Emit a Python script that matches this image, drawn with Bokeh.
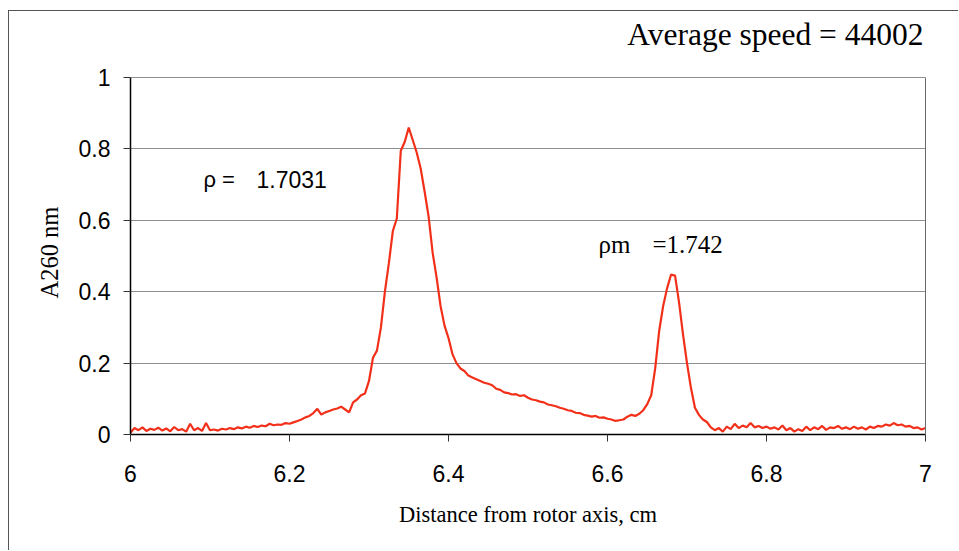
import numpy as np
from bokeh.plotting import figure
from bokeh.models import FixedTicker, Label, LinearAxis, Title
from bokeh.embed import file_html
from bokeh.resources import INLINE

# ---- data -------------------------------------------------------------
x_start = 6.0
x_step = 0.005
absorbance = [
    0.005, 0.018, 0.012, 0.020, 0.010, 0.016, 0.013, 0.019, 0.011, 0.017,   # 6.000
    0.009, 0.021, 0.012, 0.015, 0.008, 0.030, 0.012, 0.018, 0.010, 0.032,   # 6.050
    0.012, 0.014, 0.011, 0.016, 0.014, 0.018, 0.015, 0.020, 0.017, 0.022,   # 6.100
    0.019, 0.024, 0.021, 0.025, 0.023, 0.030, 0.026, 0.028, 0.027, 0.032,   # 6.150
    0.030, 0.034, 0.038, 0.042, 0.048, 0.052, 0.060, 0.072, 0.056, 0.062,   # 6.200
    0.066, 0.070, 0.073, 0.078, 0.070, 0.062, 0.090, 0.098, 0.110, 0.115,   # 6.250
    0.150, 0.215, 0.235, 0.300, 0.400, 0.480, 0.570, 0.605, 0.795, 0.820,   # 6.300
    0.860, 0.825, 0.790, 0.745, 0.680, 0.610, 0.510, 0.440, 0.360, 0.305,   # 6.350
    0.270, 0.225, 0.200, 0.185, 0.178, 0.165, 0.160, 0.155, 0.150, 0.145,   # 6.400
    0.142, 0.138, 0.128, 0.125, 0.118, 0.116, 0.112, 0.113, 0.108, 0.110,   # 6.450
    0.103, 0.098, 0.096, 0.092, 0.090, 0.084, 0.082, 0.079, 0.075, 0.072,   # 6.500
    0.068, 0.066, 0.061, 0.060, 0.055, 0.053, 0.050, 0.052, 0.047, 0.048,   # 6.550
    0.044, 0.042, 0.038, 0.040, 0.042, 0.050, 0.055, 0.052, 0.058, 0.068,   # 6.600
    0.085, 0.110, 0.185, 0.290, 0.360, 0.410, 0.448, 0.445, 0.370, 0.280,   # 6.650
    0.200, 0.130, 0.075, 0.055, 0.042, 0.035, 0.020, 0.012, 0.018, 0.008,   # 6.700
    0.022, 0.015, 0.030, 0.018, 0.025, 0.020, 0.032, 0.020, 0.024, 0.018,   # 6.750
    0.022, 0.016, 0.020, 0.014, 0.025, 0.012, 0.018, 0.008, 0.015, 0.010,   # 6.800
    0.022, 0.012, 0.020, 0.015, 0.024, 0.013, 0.020, 0.018, 0.024, 0.016,   # 6.850
    0.020, 0.015, 0.022, 0.016, 0.020, 0.014, 0.022, 0.018, 0.024, 0.022,   # 6.900
    0.028, 0.025, 0.032, 0.026, 0.028, 0.022, 0.024, 0.018, 0.020, 0.014,   # 6.950
    0.018,                                                                  # 7.000
]
distance = np.round(x_start + x_step * np.arange(len(absorbance)), 4)

x_ticks = [6, 6.2, 6.4, 6.6, 6.8, 7]
x_tick_labels = ["6", "6.2", "6.4", "6.6", "6.8", "7"]
y_ticks = [0, 0.2, 0.4, 0.6, 0.8, 1]
y_tick_labels = ["0", "0.2", "0.4", "0.6", "0.8", "1"]

title_text = "Average speed = 44002"
x_title = "Distance from rotor axis, cm"
y_title = "A260 nm"
rho_label = "\u03c1 ="
rho_value = "1.7031"
rhom_label = "\u03c1m"
rhom_value = "=1.742"

# ---- figure -----------------------------------------------------------
SANS = "Liberation Sans"
SERIF = "Liberation Serif"

# plot box: 357 px per unit of A260; the frame extends 66 px above y=1
# so that the title can live inside it
Y_AXIS_MIN, Y_AXIS_MAX = 0, 1
Y_VIEW_TOP = 1 + 66 / 357

p = figure(width=950, height=540, x_range=(6, 7), y_range=(0, Y_VIEW_TOP),
           output_backend="svg", toolbar_location=None,
           min_border_left=121, min_border_right=34,
           min_border_top=0, min_border_bottom=117)
p.styles = {"border-top": "1px solid #555555", "border-left": "1px solid #555555",
            "margin-left": "8px", "margin-top": "10px"}
p.background_fill_color = "white"
p.border_fill_color = "white"
p.outline_line_color = None

p.xgrid.visible = False
p.ygrid.grid_line_color = "#8f8f8f"
p.ygrid.grid_line_width = 1

p.xaxis.ticker = FixedTicker(ticks=x_ticks)
p.yaxis.ticker = FixedTicker(ticks=y_ticks)
p.yaxis.bounds = (Y_AXIS_MIN, Y_AXIS_MAX)
p.xaxis.major_label_overrides = dict(zip(x_ticks, x_tick_labels))
p.yaxis.major_label_overrides = dict(zip(y_ticks, y_tick_labels))

for ax in (p.xaxis[0], p.yaxis[0]):
    ax.axis_line_color = "black"
    ax.axis_line_width = 1.5
    ax.major_tick_line_color = "#333333"
    ax.major_tick_out = 7
    ax.major_tick_in = 0
    ax.minor_tick_line_color = None
    ax.major_label_text_font = SANS
    ax.major_label_text_font_size = "23px"
    ax.major_label_text_color = "black"
    ax.axis_label_text_font = SERIF
    ax.axis_label_text_font_style = "normal"
    ax.axis_label_text_color = "black"

p.xaxis.major_label_standoff = 23
p.yaxis.major_label_standoff = 13
p.xaxis.axis_label = x_title
p.xaxis.axis_label_text_font_size = "22.5px"
p.xaxis.axis_label_standoff = 17

# y-axis title, placed beside the 0..1 part of the axis
p.add_layout(Title(text=y_title, align="left", offset=136, vertical_align="bottom",
                   standoff=26, text_font=SERIF, text_font_size="24.5px",
                   text_font_style="normal", text_color="black"), "left")

# right edge of the plot box (gray line from 0 to 1)
right_axis = LinearAxis(ticker=FixedTicker(ticks=[]), bounds=(Y_AXIS_MIN, Y_AXIS_MAX),
                        axis_line_color="#6a6a6a", axis_line_width=1,
                        major_tick_line_color=None, minor_tick_line_color=None)
p.add_layout(right_axis, "right")

p.line(distance, absorbance, line_color="#f2301a", line_width=2.2)

p.add_layout(Label(x=7, y=1, x_offset=-2, y_offset=43, text=title_text,
                   text_align="right", text_baseline="alphabetic",
                   text_font=SERIF, text_font_size="31.5px", text_color="black"))
p.add_layout(Label(x=6.0918, y=0.714, text=rho_label, text_align="left",
                   text_baseline="alphabetic", text_font=SANS,
                   text_font_size="22px", text_color="black"))
p.add_layout(Label(x=6.1585, y=0.714, text=rho_value, text_align="left",
                   text_baseline="alphabetic", text_font=SANS,
                   text_font_size="23px", text_color="black"))
p.add_layout(Label(x=6.5887, y=0.532, text=rhom_label, text_align="left",
                   text_baseline="alphabetic", text_font=SERIF,
                   text_font_size="25px", text_color="black"))
p.add_layout(Label(x=6.6566, y=0.532, text=rhom_value, text_align="left",
                   text_baseline="alphabetic", text_font=SERIF,
                   text_font_size="25px", text_color="black"))

open("out.html", "w").write(file_html(p, INLINE))
